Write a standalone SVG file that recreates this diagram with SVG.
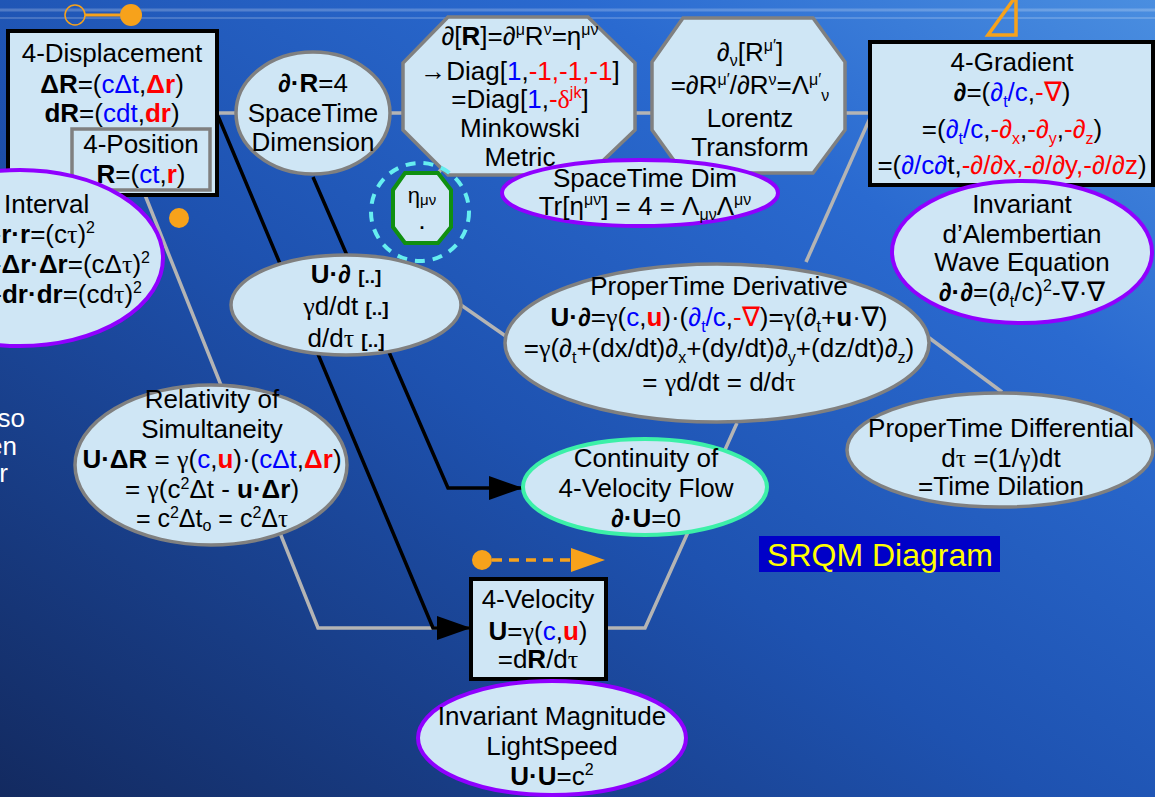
<svg xmlns="http://www.w3.org/2000/svg" width="1155" height="797" viewBox="0 0 1155 797">
<defs>
<linearGradient id="bg" x1="0" y1="1" x2="1" y2="0">
<stop offset="0" stop-color="#132a60"/>
<stop offset="0.45" stop-color="#1e52b0"/>
<stop offset="0.75" stop-color="#2a6ad0"/>
<stop offset="1" stop-color="#4a8ee0"/>
</linearGradient>
<marker id="ah" markerWidth="34" markerHeight="24" refX="34" refY="12" orient="auto" markerUnits="userSpaceOnUse">
<path d="M0,0 L34,12 L0,24 Z" fill="#000"/>
</marker>
<style>
.t{font-family:"Liberation Sans",Arial,sans-serif;font-size:26px;text-anchor:middle;fill:#000}
.b{font-weight:bold}
.bl{fill:#0000ff}
.rd{fill:#ff0000}
.sr{font-family:"Liberation Serif","Times New Roman",serif}
.nb{font-family:"Liberation Serif","Times New Roman",serif;font-size:27px}
.s{font-size:16px}
.nd{fill:#cfe6f5;stroke:#808080;stroke-width:3.5}
.bx{fill:#cfe6f5;stroke:#000;stroke-width:4}
.pu{fill:#cfe6f5;stroke:#9000ff;stroke-width:4}
.gl{fill:none;stroke:#b4b4b4;stroke-width:3.5}
.kl{fill:none;stroke:#000;stroke-width:3.5}
.or{fill:#f7a21b}
</style>
</defs>
<rect width="1155" height="797" fill="url(#bg)"/>
<line x1="0" y1="10" x2="1155" y2="10" stroke="#ffffff" stroke-opacity="0.22" stroke-width="3"/>
<line x1="0" y1="18" x2="1155" y2="18" stroke="#ffffff" stroke-opacity="0.18" stroke-width="2"/>

<g id="decor">
<circle cx="75" cy="15" r="10" fill="none" stroke="#f7a21b" stroke-width="1.5"/>
<line x1="85" y1="15" x2="120" y2="15" stroke="#f7a21b" stroke-width="3"/>
<circle class="or" cx="131" cy="15" r="11"/>
<polygon points="1016,-4 1016,35 988,35" fill="none" stroke="#f7a21b" stroke-width="3.5"/>
<circle class="or" cx="179" cy="218" r="10"/>
<circle class="or" cx="482" cy="560" r="10"/>
<line x1="492" y1="560" x2="572" y2="560" stroke="#f7a21b" stroke-width="3.5" stroke-dasharray="10 7"/>
<polygon class="or" points="571,548 605,560 571,572"/>
<text class="t" x="25" y="427" style="text-anchor:end;fill:#fff">so</text>
<text class="t" x="17" y="455" style="text-anchor:end;fill:#fff">en</text>
<text class="t" x="8" y="482" style="text-anchor:end;fill:#fff">r</text>
</g>

<g id="connectors">
<path class="gl" d="M217,113 L870,113"/>
<path class="gl" d="M870,118 L806,262"/>
<path class="gl" d="M461,305 L507,337"/>
<path class="gl" d="M928,337 L1002,392"/>
<path class="gl" d="M737,423 L645,628 L606,628"/>
<path class="gl" d="M143,190 L318,628 L471,628"/>
<path class="gl" d="M436,177 L443,166"/>
<path class="kl" d="M218,116 L433,628 L471,628" marker-end="url(#ah)"/>
<path class="kl" d="M313,177 L448,488 L523,488" marker-end="url(#ah)"/>
</g>

<g id="n-displacement">
<rect class="bx" x="8" y="31" width="209" height="164"/>
<text class="t" x="112" y="62">4-Displacement</text>
<text class="t" x="112" y="93"><tspan class="b">ΔR</tspan>=(<tspan class="bl">cΔt</tspan>,<tspan class="rd b">Δr</tspan>)</text>
<text class="t" x="112" y="122"><tspan class="b">dR</tspan>=(<tspan class="bl">cdt</tspan>,<tspan class="rd b">dr</tspan>)</text>
</g>

<g id="n-position">
<rect x="72" y="129" width="138" height="61" fill="#cfe6f5" stroke="#808080" stroke-width="3.5"/>
<text class="t" x="141" y="153">4-Position</text>
<text class="t" x="141" y="183"><tspan class="b">R</tspan>=(<tspan class="bl">ct</tspan>,<tspan class="rd b">r</tspan>)</text>
</g>

<g id="n-interval">
<ellipse class="pu" cx="20" cy="258" rx="143" ry="88"/>
<text class="t" x="4" y="213" style="text-anchor:start">Interval</text>
<text class="t" x="95" y="243" style="text-anchor:end">-<tspan class="b">r·r</tspan>=(c<tspan class="sr">τ</tspan>)<tspan class="s" dy="-10">2</tspan></text>
<text class="t" x="150" y="273" style="text-anchor:end">-<tspan class="b">Δr·Δr</tspan>=(cΔ<tspan class="sr">τ</tspan>)<tspan class="s" dy="-10">2</tspan></text>
<text class="t" x="142" y="303" style="text-anchor:end">-<tspan class="b">dr·dr</tspan>=(cd<tspan class="sr">τ</tspan>)<tspan class="s" dy="-10">2</tspan></text>
</g>

<g id="n-dimension">
<ellipse class="nd" cx="313" cy="113" rx="77" ry="61"/>
<text class="t" x="313" y="92"><tspan class="b">∂·R</tspan>=4</text>
<text class="t" x="313" y="122">SpaceTime</text>
<text class="t" x="313" y="151">Dimension</text>
</g>

<g id="n-minkowski">
<polygon class="nd" points="448,17 588,17 635,63 635,130 588,175 448,175 403,130 403,63"/>
<text class="t" x="520" y="45">∂[<tspan class="b">R</tspan>]=∂<tspan class="s" dy="-10">μ</tspan><tspan dy="10">R</tspan><tspan class="s" dy="-10">ν</tspan><tspan dy="10">=η</tspan><tspan class="s" dy="-10">μν</tspan></text>
<text class="t" x="520" y="80">→Diag[<tspan class="bl">1</tspan>,<tspan class="rd">-1,-1,-1</tspan>]</text>
<text class="t" x="520" y="108">=Diag[<tspan class="bl">1</tspan>,<tspan class="rd">-</tspan><tspan class="rd sr">δ</tspan><tspan class="rd s" dy="-10">jk</tspan><tspan dy="10">]</tspan></text>
<text class="t" x="520" y="137">Minkowski</text>
<text class="t" x="520" y="166">Metric</text>
</g>

<g id="n-lorentz">
<polygon class="nd" points="683,18 813,18 845,62 845,130 813,173 683,173 652,130 652,62"/>
<text class="t" x="750" y="61">∂<tspan class="s" dy="5">ν</tspan><tspan dy="-5">[R</tspan><tspan class="s" dy="-10">μ′</tspan><tspan dy="10">]</tspan></text>
<text class="t" x="750" y="94">=∂R<tspan class="s" dy="-9">μ′</tspan><tspan dy="9">/∂R</tspan><tspan class="s" dy="-9">ν</tspan><tspan dy="9">=Λ</tspan><tspan class="s" dy="-9">μ′</tspan><tspan class="s" dy="16">ν</tspan></text>
<text class="t" x="750" y="127">Lorentz</text>
<text class="t" x="750" y="156">Transform</text>
</g>

<g id="n-stdim">
<ellipse class="pu" cx="640" cy="193" rx="138" ry="33"/>
<text class="t" x="645" y="187">SpaceTime Dim</text>
<text class="t" x="645" y="215">Tr[η<tspan class="s" dy="-10">μν</tspan><tspan dy="10">] = 4 = Λ</tspan><tspan class="s" dy="5">μν</tspan><tspan dy="-5">Λ</tspan><tspan class="s" dy="-10">μν</tspan></text>
</g>

<g id="n-gradient">
<rect class="bx" x="870" y="42" width="283" height="143"/>
<text class="t" x="1012" y="71">4-Gradient</text>
<text class="t" x="1012" y="101"><tspan class="b">∂</tspan>=(<tspan class="bl">∂</tspan><tspan class="bl s" dy="6">t</tspan><tspan class="bl" dy="-6">/c</tspan>,<tspan class="rd">-</tspan><tspan class="rd nb">∇</tspan>)</text>
<text class="t" x="1012" y="138">=(<tspan class="bl">∂</tspan><tspan class="bl s" dy="6">t</tspan><tspan class="bl" dy="-6">/c</tspan>,<tspan class="rd">-∂</tspan><tspan class="rd s" dy="6">x</tspan><tspan dy="-6">,</tspan><tspan class="rd">-∂</tspan><tspan class="rd s" dy="6">y</tspan><tspan dy="-6">,</tspan><tspan class="rd">-∂</tspan><tspan class="rd s" dy="6">z</tspan><tspan dy="-6">)</tspan></text>
<text class="t" x="1012" y="174">=(<tspan class="bl">∂/c∂</tspan>t,<tspan class="rd">-∂/∂x,-∂/∂y,-∂/∂z</tspan>)</text>
</g>

<g id="n-dalembertian">
<ellipse class="pu" cx="1022" cy="252" rx="130" ry="71"/>
<text class="t" x="1022" y="213">Invariant</text>
<text class="t" x="1022" y="243">d’Alembertian</text>
<text class="t" x="1022" y="271">Wave Equation</text>
<text class="t" x="1022" y="301"><tspan class="b">∂·∂</tspan>=(∂<tspan class="s" dy="6">t</tspan><tspan dy="-6">/c)</tspan><tspan class="s" dy="-10">2</tspan><tspan dy="10">-</tspan><tspan class="nb">∇</tspan>·<tspan class="nb">∇</tspan></text>
</g>

<g id="n-eta">
<circle cx="420" cy="212" r="49" fill="none" stroke="#66eef0" stroke-width="4" stroke-dasharray="10 8"/>
<polygon points="405,173 438,173 451,190 451,227 438,243 405,243 393,227 393,190" fill="#cfe6f5" stroke="#109010" stroke-width="4"/>
<text class="t" x="422" y="203" style="font-size:22px">η<tspan style="font-size:15px" dy="2">μν</tspan></text>
<text class="t" x="422" y="229" style="font-size:18px;font-weight:bold">.</text>
</g>

<g id="n-udiff">
<ellipse class="nd" cx="346" cy="305" rx="115" ry="50"/>
<text class="t" x="346" y="283"><tspan class="b">U·∂</tspan> <tspan class="b" style="font-size:19px">[..]</tspan></text>
<text class="t" x="346" y="315"><tspan class="sr">γ</tspan>d/dt <tspan class="b" style="font-size:19px">[..]</tspan></text>
<text class="t" x="346" y="347">d/d<tspan class="sr">τ</tspan> <tspan class="b" style="font-size:19px">[..]</tspan></text>
</g>

<g id="n-ptderiv">
<ellipse class="nd" cx="717" cy="343" rx="212" ry="79"/>
<text class="t" x="719" y="295">ProperTime Derivative</text>
<text class="t" x="719" y="326"><tspan class="b">U·∂</tspan>=<tspan class="sr">γ</tspan>(<tspan class="bl">c</tspan>,<tspan class="rd b">u</tspan>)·(<tspan class="bl">∂</tspan><tspan class="bl s" dy="6">t</tspan><tspan class="bl" dy="-6">/c</tspan>,<tspan class="rd">-</tspan><tspan class="rd nb">∇</tspan>)=<tspan class="sr">γ</tspan>(∂<tspan class="s" dy="6">t</tspan><tspan dy="-6">+</tspan><tspan class="b">u</tspan>·<tspan class="nb">∇</tspan>)</text>
<text class="t" x="719" y="357">=<tspan class="sr">γ</tspan>(∂<tspan class="s" dy="6">t</tspan><tspan dy="-6">+(dx/dt)∂</tspan><tspan class="s" dy="6">x</tspan><tspan dy="-6">+(dy/dt)∂</tspan><tspan class="s" dy="6">y</tspan><tspan dy="-6">+(dz/dt)∂</tspan><tspan class="s" dy="6">z</tspan><tspan dy="-6">)</tspan></text>
<text class="t" x="719" y="391">= <tspan class="sr">γ</tspan>d/dt = d/d<tspan class="sr">τ</tspan></text>
</g>

<g id="n-ptdiff">
<ellipse class="nd" cx="1000" cy="450" rx="153" ry="57"/>
<text class="t" x="1001" y="437">ProperTime Differential</text>
<text class="t" x="1001" y="467">d<tspan class="sr">τ</tspan> =(1/<tspan class="sr">γ</tspan>)dt</text>
<text class="t" x="1001" y="495">=Time Dilation</text>
</g>

<g id="n-simultaneity">
<ellipse class="nd" cx="211" cy="465" rx="136" ry="80"/>
<text class="t" x="212" y="408">Relativity of</text>
<text class="t" x="212" y="438">Simultaneity</text>
<text class="t" x="212" y="468"><tspan class="b">U·ΔR</tspan> = <tspan class="sr">γ</tspan>(<tspan class="bl">c</tspan>,<tspan class="rd b">u</tspan>)·(<tspan class="bl">cΔt</tspan>,<tspan class="rd b">Δr</tspan>)</text>
<text class="t" x="212" y="498">= <tspan class="sr">γ</tspan>(c<tspan class="s" dy="-9">2</tspan><tspan dy="9">Δt - </tspan><tspan class="b">u·Δr</tspan>)</text>
<text class="t" x="212" y="527" style="font-size:25px">= c<tspan class="s" dy="-9">2</tspan><tspan dy="9">Δt</tspan><tspan class="s" dy="4">o</tspan><tspan dy="-4"> = c</tspan><tspan class="s" dy="-9">2</tspan><tspan dy="9">Δ</tspan><tspan class="sr">τ</tspan></text>
</g>

<g id="n-continuity">
<ellipse cx="645" cy="487" rx="122" ry="48" fill="#cfe6f5" stroke="#3cf0a8" stroke-width="4"/>
<text class="t" x="646" y="467">Continuity of</text>
<text class="t" x="646" y="497">4-Velocity Flow</text>
<text class="t" x="646" y="527"><tspan class="b">∂·U</tspan>=0</text>
</g>

<g id="n-velocity">
<rect class="bx" x="471" y="579" width="135" height="100"/>
<text class="t" x="538" y="608">4-Velocity</text>
<text class="t" x="538" y="640"><tspan class="b">U</tspan>=<tspan class="sr">γ</tspan>(<tspan class="bl">c</tspan>,<tspan class="rd b">u</tspan>)</text>
<text class="t" x="538" y="668">=d<tspan class="b">R</tspan>/d<tspan class="sr">τ</tspan></text>
</g>

<g id="n-magnitude">
<ellipse class="pu" cx="552" cy="738" rx="134" ry="57"/>
<text class="t" x="552" y="725">Invariant Magnitude</text>
<text class="t" x="552" y="755">LightSpeed</text>
<text class="t" x="552" y="785"><tspan class="b">U·U</tspan>=c<tspan class="s" dy="-10">2</tspan></text>
</g>

<g id="label">
<rect x="759" y="536" width="241" height="36" fill="#0000c8"/>
<text x="880" y="566" style="font-family:'Liberation Sans',Arial,sans-serif;font-size:32px;text-anchor:middle;fill:#ffff00">SRQM Diagram</text>
</g>
</svg>
